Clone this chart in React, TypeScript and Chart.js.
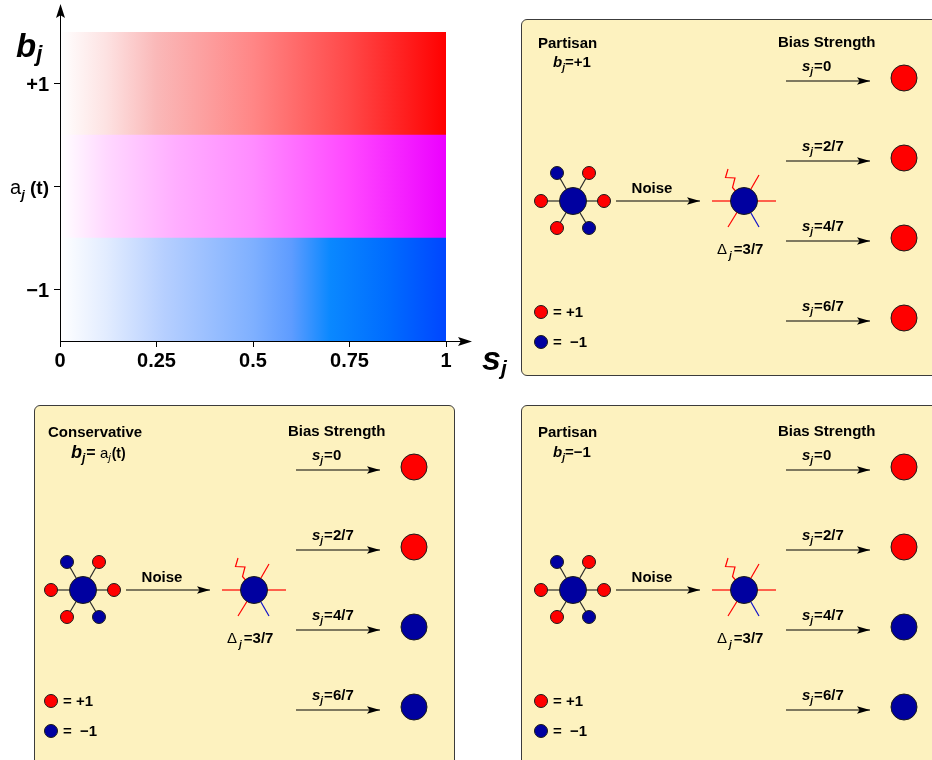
import React, { useEffect, useRef } from 'react';
import { Chart, registerables } from 'chart.js';

Chart.register(...registerables);

// ===================== DATA =====================
// Top-left map: bias b_j (rows) versus bias strength s_j (x)
const biasRows = [1, 0, -1];
const biasRowLabels = ['+1', 'a|j|(t)', '−1'];
const strengthTicks = [0, 0.25, 0.5, 0.75, 1];
const strengthTickLabels = ['0', '0.25', '0.5', '0.75', '1'];
const strengthSpan = [0, 1];

// Network diagrams (panel units)
const neighbourSpins = [1, 1, -1, 1, 1, -1];
const neighbourX = [20, 83, 36, 68, 36, 68];
const neighbourY = [182, 182, 154, 154, 209, 209];
const hubXY = [52, 182];
const noisyHubXY = [223, 182];
const perceivedEndX = [191, 255, 238, 207, 238];
const perceivedEndY = [182, 182, 156, 208, 208];
const perceivedSpins = [1, 1, 1, 1, -1];
const flippedX = [207, 204.5, 214, 211.5, 223];
const flippedY = [150, 158.5, 159, 168.5, 182];
const noiseArrowX = [95, 179];
const strengthArrowX = [265, 349];
const strengthLabels = ['0', '2/7', '4/7', '6/7'];
const outcomeY = [59, 139, 219, 299];
const outcomeX = 383;
const outcomePartisanPlus = [1, 1, 1, 1];
const outcomeConservative = [1, 1, -1, -1];
const outcomePartisanMinus = [1, 1, -1, -1];
const legendSpins = [1, -1];
const legendLabels = ['= +1', '=  −1'];
const legendY = [293, 323];
const legendX = 20;
const deltaValue = '3/7';

// ===================== STYLE =====================
const FAM = '"Liberation Sans", Arial, Helvetica, sans-serif';
const font = (style: string, size: number) => `${style} ${size}px ${FAM}`;
const B15 = font('bold', 15);
const BI15 = font('italic bold', 15);
const BI10 = font('italic bold', 10);
const R15 = font('normal', 15);
const RED = '#ff0000';
const BLUE = '#0000a0';
const EDGE = '#2a2a2a';
const PANEL_FILL = '#fdf2bf';
const spinColor = (s: number) => (s > 0 ? RED : BLUE);

const BAND_STOPS: [number, string][][] = [
  [[0, '#ffffff'], [0.12, '#fde2e2'], [0.25, '#fab8b8'], [0.5, '#ff8686'], [0.75, '#ff4848'], [1, '#ff0000']],
  [[0, '#ffffff'], [0.12, '#ffd8ff'], [0.3, '#ffaeff'], [0.5, '#ff8cff'], [0.75, '#ff48ff'], [1, '#ec00ff']],
  [[0, '#ffffff'], [0.12, '#e2ecff'], [0.27, '#b6cfff'], [0.5, '#7fb0ff'], [0.6, '#5e9cff'], [0.7, '#0a88ff'], [0.85, '#006cff'], [1, '#0046ff']],
];

type Run = { t: string; f: string; dy?: number; dx?: number };
type TextItem = { runs: Run[]; x: number; y: number; align?: 'left' | 'center' | 'right' };

function drawRuns(ctx: CanvasRenderingContext2D, item: TextItem) {
  let w = 0;
  for (const r of item.runs) {
    ctx.font = r.f;
    w += ctx.measureText(r.t).width + (r.dx || 0);
  }
  let x = item.align === 'center' ? item.x - w / 2 : item.align === 'right' ? item.x - w : item.x;
  ctx.save();
  ctx.fillStyle = '#000';
  ctx.textAlign = 'left';
  ctx.textBaseline = 'alphabetic';
  for (const r of item.runs) {
    ctx.font = r.f;
    x += r.dx || 0;
    ctx.fillText(r.t, x, item.y + (r.dy || 0));
    x += ctx.measureText(r.t).width;
  }
  ctx.restore();
}

function arrowHead(ctx: CanvasRenderingContext2D, x: number, y: number, angle: number, len = 13, half = 4) {
  ctx.save();
  ctx.translate(x, y);
  ctx.rotate(angle);
  ctx.beginPath();
  ctx.moveTo(0, 0);
  ctx.lineTo(-len, -half);
  ctx.lineTo(-len * 0.8, 0);
  ctx.lineTo(-len, half);
  ctx.closePath();
  ctx.fillStyle = '#000';
  ctx.fill();
  ctx.restore();
}

function axisLabelRuns(label: string): Run[] {
  if (label.includes('|')) {
    const [base, sub, rest] = label.split('|');
    return [
      { t: base, f: font('normal', 20) },
      { t: sub, f: font('italic bold', 13), dy: 5 },
      { t: ' ' + rest, f: font('bold', 19) },
    ];
  }
  return [{ t: label, f: font('bold', 20) }];
}

// ===================== TOP-LEFT MAP =====================
function makeGradientChart(canvas: HTMLCanvasElement) {
  const decor = {
    id: 'mapDecor',
    afterDraw(chart: any) {
      const ctx = chart.ctx as CanvasRenderingContext2D;
      const xs = chart.scales.x;
      const ys = chart.scales.y;
      const x0 = xs.getPixelForValue(strengthSpan[0]);
      const x1 = xs.getPixelForValue(strengthSpan[1]);
      const yb = chart.chartArea.bottom;
      const yt = chart.chartArea.top;
      ctx.save();
      ctx.strokeStyle = '#000';
      ctx.lineWidth = 1;
      ctx.beginPath();
      ctx.moveTo(x0 + 0.5, yb);
      ctx.lineTo(x0 + 0.5, yt - 22);
      ctx.moveTo(x0, yb + 0.5);
      ctx.lineTo(x1 + 20, yb + 0.5);
      ctx.stroke();
      arrowHead(ctx, x0 + 0.5, yt - 28, -Math.PI / 2, 14, 4.5);
      arrowHead(ctx, x1 + 26, yb + 0.5, 0, 14, 4.5);
      biasRows.forEach((v, i) => {
        const py = ys.getPixelForValue(v);
        drawRuns(ctx, { runs: axisLabelRuns(biasRowLabels[i]), x: x0 - 11, y: py + 7, align: 'right' });
      });
      drawRuns(ctx, { runs: [{ t: 'b', f: font('italic bold', 33) }, { t: 'j', f: font('italic bold', 22), dy: 4 }], x: 16, y: 57 });
      drawRuns(ctx, { runs: [{ t: 's', f: font('italic bold', 34) }, { t: 'j', f: font('italic bold', 21), dy: 5 }], x: x1 + 36, y: yb + 29 });
      ctx.restore();
    },
  };

  const tickStyle = { drawOnChartArea: false, drawTicks: true, tickLength: 6, color: '#000', lineWidth: 1, offset: false };

  return new Chart(canvas, {
    type: 'bar',
    data: {
      datasets: [
        {
          data: biasRows.map((v) => ({ x: [...strengthSpan], y: v })) as any,
          backgroundColor: (c: any) => {
            const chart = c.chart;
            const xs = chart.scales.x;
            if (!xs || !chart.chartArea) return '#fff';
            const g = chart.ctx.createLinearGradient(xs.getPixelForValue(0), 0, xs.getPixelForValue(1), 0);
            (BAND_STOPS[c.dataIndex] || BAND_STOPS[0]).forEach(([o, col]) => g.addColorStop(o, col));
            return g;
          },
          borderWidth: 0,
          borderSkipped: false,
          barPercentage: 1,
          categoryPercentage: 1,
        } as any,
      ],
    },
    options: {
      indexAxis: 'y',
      responsive: false,
      animation: false,
      events: [],
      layout: { padding: { top: 32, right: 69, bottom: 14, left: 0 }, autoPadding: false },
      scales: {
        x: {
          type: 'linear',
          min: 0,
          max: 1,
          offset: false,
          afterBuildTicks: (s: any) => {
            s.ticks = strengthTicks.map((v) => ({ value: v }));
          },
          afterFit: (s: any) => {
            s.height = 40;
          },
          grid: tickStyle,
          border: { display: false },
          ticks: {
            color: '#000',
            font: { family: FAM, size: 20, weight: 'bold' },
            padding: 2,
            maxRotation: 0,
            autoSkip: false,
            callback: (_v: any, i: number) => strengthTickLabels[i],
          },
        },
        y: {
          type: 'linear',
          min: -1.5,
          max: 1.5,
          offset: false,
          afterBuildTicks: (s: any) => {
            s.ticks = biasRows.map((v) => ({ value: v }));
          },
          afterFit: (s: any) => {
            s.width = 60;
          },
          grid: tickStyle,
          border: { display: false },
          ticks: { display: false },
        },
      } as any,
      plugins: { legend: { display: false }, tooltip: { enabled: false } },
    },
    plugins: [decor],
  } as any);
}

// ===================== NETWORK PANELS =====================
type PanelDef = {
  box: [number, number, number, number];
  origin: [number, number];
  title: string;
  biasRuns: Run[];
  biasXY: [number, number];
  outcomes: number[];
};

const PANELS: PanelDef[] = [
  {
    box: [521, 19, 440, 357],
    origin: [521, 19],
    title: 'Partisan',
    biasRuns: [{ t: 'b', f: BI15 }, { t: 'j', f: BI10, dy: 4 }, { t: '=+1', f: B15 }],
    biasXY: [32, 48],
    outcomes: outcomePartisanPlus,
  },
  {
    box: [34, 405, 421, 380],
    origin: [31, 408],
    title: 'Conservative',
    biasRuns: [
      { t: 'b', f: font('italic bold', 18) },
      { t: 'j', f: font('italic bold', 12), dy: 4 },
      { t: '= ', f: font('bold', 16), dx: 1 },
      { t: 'a', f: font('normal', 15) },
      { t: 'j', f: font('italic', 10), dy: 3 },
      { t: '(t)', f: font('bold', 14), dx: 1 },
    ],
    biasXY: [40, 50],
    outcomes: outcomeConservative,
  },
  {
    box: [521, 405, 440, 380],
    origin: [521, 408],
    title: 'Partisan',
    biasRuns: [{ t: 'b', f: BI15 }, { t: 'j', f: BI10, dy: 4 }, { t: '=−1', f: B15 }],
    biasXY: [32, 49],
    outcomes: outcomePartisanMinus,
  },
];

const pt = (x: number, y: number) => ({ x, y });

function nodeSet(points: { x: number; y: number }[], colors: string[], radius: number) {
  return {
    data: points,
    pointRadius: radius,
    pointBackgroundColor: colors,
    pointBorderColor: '#1a1a1a',
    pointBorderWidth: 1,
    showLine: false,
    order: 1,
  };
}

function lineSet(points: { x: number; y: number }[], color: string, width = 1, arrow = false) {
  return {
    data: points,
    showLine: true,
    borderColor: color,
    borderWidth: width,
    pointRadius: 0,
    tension: 0,
    order: 2,
    arrowHead: arrow,
  };
}

function makePanelChart(canvas: HTMLCanvasElement, p: PanelDef) {
  const datasets: any[] = [];
  const hub = pt(hubXY[0], hubXY[1]);
  const noisyHub = pt(noisyHubXY[0], noisyHubXY[1]);

  // nodes
  datasets.push(nodeSet(neighbourX.map((x, i) => pt(x, neighbourY[i])), neighbourSpins.map(spinColor), 6.5));
  datasets.push(nodeSet([hub], [BLUE], 13.5));
  datasets.push(nodeSet([noisyHub], [BLUE], 13.5));
  datasets.push(nodeSet(outcomeY.map((y) => pt(outcomeX, y)), p.outcomes.map(spinColor), 13));
  datasets.push(nodeSet(legendY.map((y) => pt(legendX, y)), legendSpins.map(spinColor), 6.5));

  // edges
  neighbourX.forEach((x, i) => datasets.push(lineSet([hub, pt(x, neighbourY[i])], EDGE, 1.2)));
  perceivedEndX.forEach((x, i) =>
    datasets.push(lineSet([noisyHub, pt(x, perceivedEndY[i])], perceivedSpins[i] > 0 ? RED : '#1010c8', 1.2))
  );
  datasets.push(lineSet(flippedX.map((x, i) => pt(x, flippedY[i])), RED, 1.2));

  // arrows
  datasets.push(lineSet([pt(noiseArrowX[0], hubXY[1]), pt(noiseArrowX[1], hubXY[1])], '#000', 1, true));
  outcomeY.forEach((y) =>
    datasets.push(lineSet([pt(strengthArrowX[0], y + 3), pt(strengthArrowX[1], y + 3)], '#000', 1, true))
  );

  const texts: TextItem[] = [
    { runs: [{ t: p.title, f: B15 }], x: 17, y: 29 },
    { runs: p.biasRuns, x: p.biasXY[0], y: p.biasXY[1] },
    { runs: [{ t: 'Bias Strength', f: B15 }], x: 257, y: 28 },
    ...strengthLabels.map((lab, i) => ({
      runs: [
        { t: 's', f: BI15 },
        { t: 'j', f: BI10, dy: 4 },
        { t: '=' + lab, f: B15, dx: 1 },
      ],
      x: 281,
      y: outcomeY[i] - 7,
    })),
    { runs: [{ t: 'Noise', f: B15 }], x: 131, y: 174, align: 'center' },
    {
      runs: [
        { t: 'Δ', f: R15 },
        { t: 'j', f: BI10, dy: 5, dx: 2 },
        { t: '=' + deltaValue, f: B15, dx: 2 },
      ],
      x: 196,
      y: 235,
    },
    ...legendLabels.map((lab, i) => ({ runs: [{ t: lab, f: B15 }], x: 32, y: legendY[i] + 5 })),
  ];

  const decor = {
    id: 'panelDecor',
    afterDatasetsDraw(chart: any) {
      const ctx = chart.ctx as CanvasRenderingContext2D;
      const xs = chart.scales.x;
      const ys = chart.scales.y;
      chart.data.datasets.forEach((ds: any, i: number) => {
        if (!ds.arrowHead) return;
        const meta = chart.getDatasetMeta(i);
        const a = meta.data[0];
        const b = meta.data[meta.data.length - 1];
        arrowHead(ctx, b.x, b.y, Math.atan2(b.y - a.y, b.x - a.x), 13, 3.8);
      });
      texts.forEach((t) => drawRuns(ctx, { ...t, x: xs.getPixelForValue(t.x), y: ys.getPixelForValue(t.y) }));
    },
  };

  return new Chart(canvas, {
    type: 'scatter',
    data: { datasets },
    options: {
      responsive: false,
      animation: false,
      events: [],
      layout: { padding: 0, autoPadding: false },
      scales: {
        x: { type: 'linear', min: 0, max: 420, display: false },
        y: { type: 'linear', min: 0, max: 360, reverse: true, display: false },
      },
      plugins: { legend: { display: false }, tooltip: { enabled: false } },
    },
    plugins: [decor],
  } as any);
}

export default function App() {
  const mapRef = useRef<HTMLCanvasElement>(null);
  const panelRefs = useRef<(HTMLCanvasElement | null)[]>([]);

  useEffect(() => {
    const charts: Chart[] = [];
    if (mapRef.current) charts.push(makeGradientChart(mapRef.current));
    PANELS.forEach((p, i) => {
      const c = panelRefs.current[i];
      if (c) charts.push(makePanelChart(c, p));
    });
    return () => charts.forEach((c) => c.destroy());
  }, []);

  return (
    <div
      style={{
        position: 'absolute',
        left: 0,
        top: 0,
        width: 932,
        height: 760,
        overflow: 'hidden',
        background: '#ffffff',
      }}
    >
      <canvas ref={mapRef} width={515} height={395} style={{ position: 'absolute', left: 0, top: 0 }} />
      {PANELS.map((p, i) => (
        <div
          key={'box' + i}
          style={{
            position: 'absolute',
            left: p.box[0],
            top: p.box[1],
            width: p.box[2],
            height: p.box[3],
            background: PANEL_FILL,
            border: '1.5px solid #3c3c3c',
            borderRadius: 6,
            boxSizing: 'border-box',
          }}
        />
      ))}
      {PANELS.map((p, i) => (
        <canvas
          key={'cv' + i}
          ref={(el) => {
            panelRefs.current[i] = el;
          }}
          width={420}
          height={360}
          style={{ position: 'absolute', left: p.origin[0], top: p.origin[1] }}
        />
      ))}
    </div>
  );
}
